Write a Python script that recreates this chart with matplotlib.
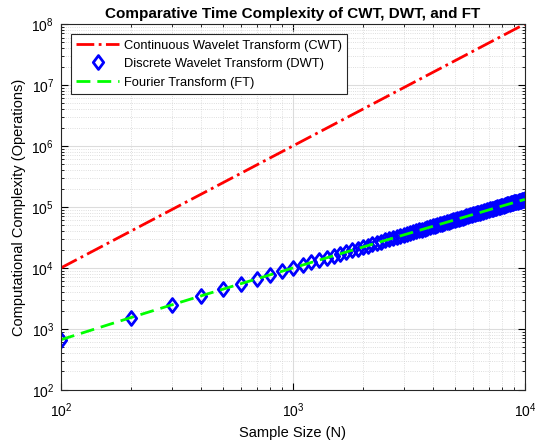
import matplotlib
matplotlib.use('Agg')
import matplotlib.pyplot as plt
from matplotlib.path import Path
from matplotlib.ticker import NullFormatter

plt.rcParams['font.family'] = ['Liberation Sans', 'DejaVu Sans']

# CWT ~ N^2 (straight line on log-log)
cwt_n = [100, 10000]
cwt_ops = [1e4, 1e8]

# DWT / FT ~ N log2 N, sampled every 100
sizes = list(range(100, 10001, 100))
dwt_ops = [664, 1529, 2469, 3458, 4483, 5537, 6616, 7715, 8832, 9966,
           11114, 12275, 13448, 14632, 15826, 17030, 18243, 19465, 20694, 21932,
           23176, 24427, 25685, 26949, 28220, 29495, 30777, 32064, 33356, 34652,
           35954, 37260, 38571, 39887, 41206, 42530, 43858, 45189, 46524, 47863,
           49206, 50552, 51902, 53255, 54611, 55971, 57333, 58699, 60067, 61439,
           62813, 64190, 65571, 66954, 68339, 69727, 71118, 72511, 73906, 75305,
           76705, 78108, 79514, 80921, 82331, 83743, 85157, 86574, 87992, 89412,
           90835, 92259, 93686, 95115, 96545, 97978, 99412, 100849, 102287, 103726,
           105169, 106612, 108057, 109504, 110953, 112404, 113855, 115309, 116764, 118222,
           119680, 121141, 122603, 124066, 125531, 126997, 128465, 129934, 131406, 132878]
ft_ops = dwt_ops

# matlab-like diamond, a bit taller than wide
diamond = Path([(0, 1), (0.75, 0), (0, -1), (-0.75, 0), (0, 1)],
               [Path.MOVETO, Path.LINETO, Path.LINETO, Path.LINETO, Path.CLOSEPOLY])

fig = plt.figure(figsize=(5.35, 4.44), dpi=100)
ax = fig.add_axes([0.114, 0.122, 0.867, 0.824])

ax.loglog(cwt_n, cwt_ops, '-.', color='red', lw=2, label='Continuous Wavelet Transform (CWT)')
ax.loglog(sizes, dwt_ops, marker=diamond, color='blue', mfc='none', mew=2, ms=10, linestyle='none',
          label='Discrete Wavelet Transform (DWT)')
ax.loglog(sizes, ft_ops, '--', color='#00ff00', lw=2, dashes=(5, 2.5), label='Fourier Transform (FT)')

ax.set_xlim(100, 10000)
ax.set_ylim(100, 1e8)
ax.xaxis.set_minor_formatter(NullFormatter())
ax.yaxis.set_minor_formatter(NullFormatter())
ax.set_title('Comparative Time Complexity of CWT, DWT, and FT', fontsize=11, fontweight='bold', pad=4)
ax.set_xlabel('Sample Size (N)', fontsize=10.5, labelpad=5)
ax.set_ylabel('Computational Complexity (Operations)', fontsize=10.5, labelpad=4)

ax.grid(True, which='major', color='#dcdcdc', lw=0.8, ls='-')
ax.grid(True, which='minor', color='#d4d4d4', lw=0.6, ls=':')
ax.set_axisbelow(True)
ax.tick_params(which='both', direction='in', top=True, right=True, labelsize=10)
ax.tick_params(axis='x', which='major', pad=8)
ax.tick_params(axis='y', which='major', pad=5)
ax.tick_params(which='major', length=5)
ax.tick_params(which='minor', length=2.5)
for s in ax.spines.values():
    s.set_linewidth(0.8)
    s.set_color('#262626')

leg = ax.legend(loc='upper left', fontsize=9.3, fancybox=False, edgecolor='#262626',
                framealpha=1, handlelength=3.3, handletextpad=0.4, borderaxespad=0.8,
                labelspacing=0.5)
leg.get_frame().set_linewidth(0.8)

plt.savefig('out.png', dpi=100)
